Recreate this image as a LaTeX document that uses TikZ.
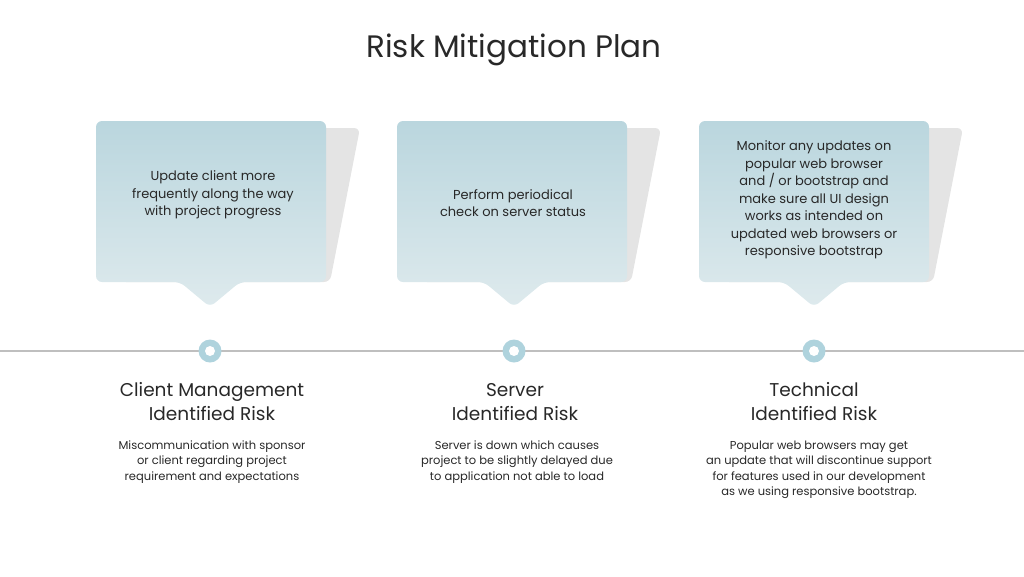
\documentclass[tikz,border=0pt]{standalone}
\usepackage{fontspec}
\setmainfont{Poppins}
\usetikzlibrary{positioning}

\definecolor{boxtop}{RGB}{186,214,222}
\definecolor{boxbot}{RGB}{222,234,237}
\definecolor{ring}{RGB}{175,211,221}
\definecolor{shade}{RGB}{228,228,228}
\definecolor{txt}{RGB}{40,40,40}

\tikzset{
  callout/.style={top color=boxtop, bottom color=boxbot, draw=none, rounded corners=6pt},
  backdrop/.style={fill=shade, draw=none, rounded corners=6pt},
  boxtext/.style={text=txt, font=\fontsize{13}{17.5}\selectfont, align=center},
  risktitle/.style={text=txt, font=\fontsize{18.5}{24}\selectfont, align=center},
  riskdesc/.style={text=txt, font=\fontsize{11.5}{15.5}\selectfont, align=center},
  marker/.style={circle, fill=ring, minimum size=23pt, inner sep=0pt},
}

\begin{document}
\begin{tikzpicture}[x=1pt, y=-1pt]
  \useasboundingbox (0,0) rectangle (1024,576);
  \node (title) at (514,50) [text=txt, font=\fontsize{31}{36}\selectfont] {Risk Mitigation Plan};

  % backdrops
  \fill [backdrop] (120,128) -- (360,128) -- (330,282) -- (120,282) -- cycle;
  \fill [backdrop] (421,128) -- (661,128) -- (631,282) -- (421,282) -- cycle;
  \fill [backdrop] (723,128) -- (963,128) -- (933,282) -- (723,282) -- cycle;

  % callouts
  \path [callout] (96,121) -- (326,121) -- (326,282) -- (240,282) -- (210,307) -- (180,282) -- (96,282) -- cycle;
  \path [callout] (397,121) -- (627,121) -- (627,282) -- (544,282) -- (514,307) -- (484,282) -- (397,282) -- cycle;
  \path [callout] (699,121) -- (929,121) -- (929,282) -- (844,282) -- (814,307) -- (784,282) -- (699,282) -- cycle;

  \node (tClient) at (213,195) [boxtext] {Update client more\\frequently along the way\\with project progress};
  \node (tServer) at (513,203) [boxtext] {Perform periodical\\check on server status};
  \node (tTech) at (814,200) [boxtext] {Monitor any updates on\\popular web browser\\and / or bootstrap and\\make sure all UI design\\works as intended on\\updated web browsers or\\responsive bootstrap};

  % timeline
  \coordinate (lineL) at (0,351);
  \coordinate (lineR) at (1024,351);
  \draw [line width=1.2pt, color=black!25] (lineL) -- (lineR);
  \foreach \name/\cx in {mClient/210, mServer/514, mTech/814} {
    \node (\name) at (\cx,351) [marker] {};
    \fill [white] (\name) circle (5pt);
  }

  \node (hClient) at (212,402) [risktitle] {Client Management\\Identified Risk};
  \node (hServer) at (515,402) [risktitle] {Server\\Identified Risk};
  \node (hTech) at (814,402) [risktitle] {Technical\\Identified Risk};

  \node (dClient) at (212,462) [riskdesc] {Miscommunication with sponsor\\or client regarding project\\requirement and expectations};
  \node (dServer) at (517,462) [riskdesc] {Server is down which causes\\project to be slightly delayed due\\to application not able to load};
  \node (dTech) at (819,470) [riskdesc] {Popular web browsers may get\\an update that will discontinue support\\for features used in our development\\as we using responsive bootstrap.};
\end{tikzpicture}
\end{document}
